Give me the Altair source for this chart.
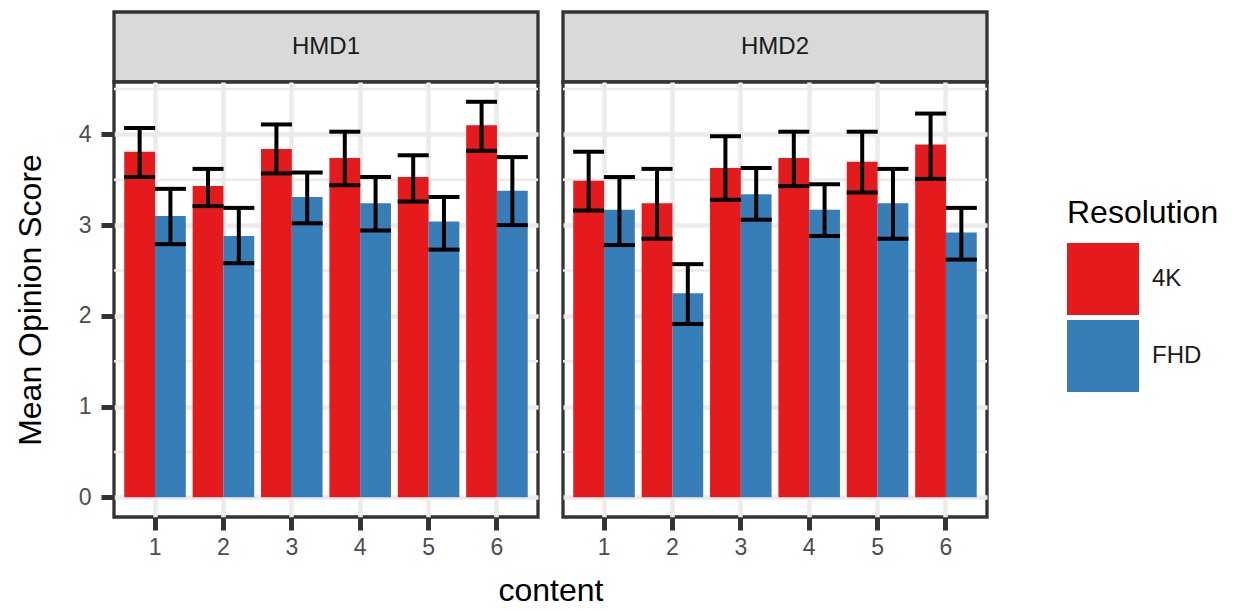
import altair as alt
import pandas as pd

content = [1, 2, 3, 4, 5, 6]
panels = ["HMD1", "HMD2"]
resolutions = ["4K", "FHD"]

hmd1_4k = [3.81, 3.43, 3.84, 3.74, 3.53, 4.10]
hmd1_4k_lo = [3.53, 3.21, 3.57, 3.44, 3.26, 3.82]
hmd1_4k_hi = [4.07, 3.62, 4.11, 4.03, 3.77, 4.36]
hmd1_fhd = [3.10, 2.88, 3.31, 3.24, 3.04, 3.38]
hmd1_fhd_lo = [2.79, 2.58, 3.02, 2.94, 2.73, 3.00]
hmd1_fhd_hi = [3.40, 3.19, 3.58, 3.53, 3.31, 3.75]

hmd2_4k = [3.49, 3.24, 3.63, 3.74, 3.70, 3.89]
hmd2_4k_lo = [3.16, 2.85, 3.28, 3.43, 3.36, 3.51]
hmd2_4k_hi = [3.81, 3.62, 3.98, 4.03, 4.03, 4.23]
hmd2_fhd = [3.17, 2.25, 3.34, 3.17, 3.24, 2.92]
hmd2_fhd_lo = [2.78, 1.91, 3.06, 2.88, 2.85, 2.62]
hmd2_fhd_hi = [3.53, 2.57, 3.63, 3.45, 3.62, 3.19]

y_ticks = [0, 1, 2, 3, 4]
y_minor = [0.5, 1.5, 2.5, 3.5, 4.5]

series = {
    ("HMD1", "4K"): (hmd1_4k, hmd1_4k_lo, hmd1_4k_hi),
    ("HMD1", "FHD"): (hmd1_fhd, hmd1_fhd_lo, hmd1_fhd_hi),
    ("HMD2", "4K"): (hmd2_4k, hmd2_4k_lo, hmd2_4k_hi),
    ("HMD2", "FHD"): (hmd2_fhd, hmd2_fhd_lo, hmd2_fhd_hi),
}
rows = []
for (hmd, res), (vals, los, his) in series.items():
    for c, v, lo, hi in zip(content, vals, los, his):
        rows.append({"hmd": hmd, "content": c, "Resolution": res, "mos": v, "lo": lo, "hi": hi})
df = pd.DataFrame(rows)
minor_df = pd.DataFrame({"v": y_minor})

FONT = "Liberation Sans"
W, H_STRIP, H_MAIN = 424, 70, 435
GRID = "#EBEBEB"
BORDER = "#333333"

yscale = alt.Scale(domain=[-0.218, 4.578], nice=False, zero=False)
xscale = alt.Scale(paddingInner=0.1, paddingOuter=0.15)
offscale = alt.Scale(paddingInner=0, paddingOuter=0)
color = alt.Color(
    "Resolution:N",
    scale=alt.Scale(domain=resolutions, range=["#E41A1C", "#377EB8"]),
    legend=alt.Legend(
        orient="none", legendX=953, legendY=186, title="Resolution",
        titleFontSize=32, titleFontWeight="normal", titleColor="black", titleFont=FONT,
        labelFontSize=24, labelColor="#1A1A1A", labelFont=FONT,
        symbolType="square", symbolSize=5184, symbolStrokeWidth=0, symbolOpacity=1,
        rowPadding=5, labelOffset=13, titlePadding=13,
    ),
)


def strip(hmd):
    return alt.Chart(pd.DataFrame({"hmd": [hmd]})).mark_text(
        font=FONT, fontSize=24, color="#1A1A1A", baseline="middle", align="center"
    ).encode(text="hmd:N").properties(
        width=W, height=H_STRIP,
        view=alt.ViewBackground(fill="#D9D9D9", stroke=BORDER, strokeWidth=3.3),
    )


def main(hmd, first):
    d = df[df.hmd == hmd]
    xaxis = alt.Axis(
        title="content" if first else None,
        titleX=W + 12.5, titleAlign="center", titleFontSize=32, titleFontWeight="normal",
        titleColor="black", titlePadding=16,
        labelAngle=0, labelFontSize=23, labelColor="#4D4D4D", labelPadding=6,
        grid=True, gridColor=GRID, gridWidth=4.5, domain=False,
        tickSize=13, tickWidth=5, tickColor=BORDER, bandPosition=0.5,
    )
    if first:
        yaxis = alt.Axis(
            title="Mean Opinion Score", values=y_ticks, grid=True, gridColor=GRID, gridWidth=4.5,
            domain=False, tickSize=13, tickWidth=5, tickColor=BORDER,
            labelFontSize=23, labelColor="#4D4D4D", labelPadding=10,
            titleFontSize=32, titleFontWeight="normal", titleColor="black", titlePadding=31,
        )
    else:
        yaxis = alt.Axis(
            title=None, values=y_ticks, grid=True, gridColor=GRID, gridWidth=4.5,
            domain=False, ticks=False, labels=False,
        )
    x = alt.X("content:O", scale=xscale, axis=xaxis)
    xo = alt.XOffset("Resolution:N", scale=offscale, sort=resolutions)
    minor = alt.Chart(minor_df).mark_rule(color=GRID, strokeWidth=2.5).encode(
        y=alt.Y("v:Q", scale=yscale, axis=yaxis)
    )
    bars = alt.Chart(d).mark_bar().encode(
        x=x, xOffset=xo, y=alt.Y("mos:Q", scale=yscale, axis=yaxis), color=color
    )
    err = alt.Chart(d).mark_rule(color="black", strokeWidth=4).encode(
        x=x, xOffset=xo, y=alt.Y("lo:Q", scale=yscale, axis=yaxis), y2="hi:Q"
    )
    cap_hi = alt.Chart(d).mark_tick(color="black", thickness=4, size=31, opacity=1).encode(
        x=x, xOffset=xo, y=alt.Y("hi:Q", scale=yscale, axis=yaxis)
    )
    cap_lo = alt.Chart(d).mark_tick(color="black", thickness=4, size=31, opacity=1).encode(
        x=x, xOffset=xo, y=alt.Y("lo:Q", scale=yscale, axis=yaxis)
    )
    return alt.layer(minor, bars, err, cap_hi, cap_lo).properties(
        width=W, height=H_MAIN,
        view=alt.ViewBackground(fill="white", stroke=BORDER, strokeWidth=3.3),
    )


chart = alt.concat(
    strip("HMD1"), strip("HMD2"), main("HMD1", True), main("HMD2", False),
    columns=2, spacing={"row": 0, "column": 25}, bounds="flush",
).properties(
    padding={"left": 4, "top": 2, "right": 5, "bottom": 0}
).configure(font=FONT).configure_axis(
    labelFont=FONT, titleFont=FONT
)

chart.save("out.html", embed_options={"renderer": "svg", "actions": False})
